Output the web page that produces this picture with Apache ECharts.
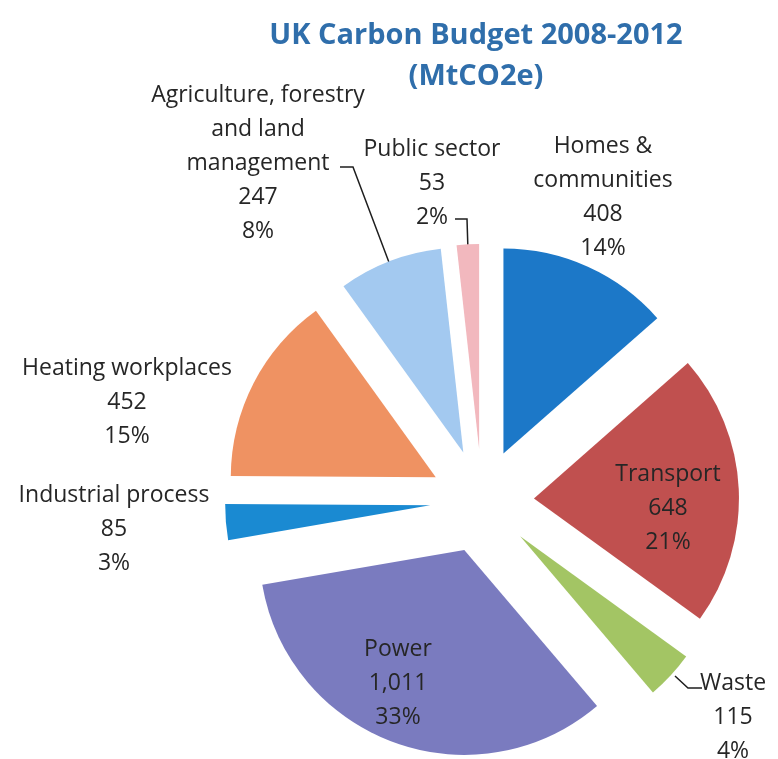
<!DOCTYPE html>
<html>
<head>
<meta charset="utf-8">
<script src="https://cdn.jsdelivr.net/npm/echarts@6/dist/echarts.min.js"></script>
<style>
  html, body { margin: 0; padding: 0; background: #ffffff; }
  #chart { width: 778px; height: 759px; }
</style>
</head>
<body>
<div id="chart"></div>
<script>
// Sectors of the UK carbon budget, clockwise from 12 o'clock
var categories = [
  'Homes &\ncommunities',
  'Transport',
  'Waste',
  'Power',
  'Industrial process',
  'Heating workplaces',
  'Agriculture, forestry\nand land\nmanagement',
  'Public sector'
];
// Emissions, MtCO2e
var values = [408, 648, 115, 1011, 85, 452, 247, 53];
var colors = ['#1c78c8', '#c0504f', '#a3c564', '#7a7bbf', '#1a8ad2', '#ef9262', '#a3c9f0', '#f2b8be'];

// Label anchor (centre) for each sector's text block
var labelPos = [
  [603, 197], [668, 508], [733, 717], [398, 683],
  [114, 529], [127, 402], [258, 163], [432, 183]
];
// Leader lines for the labels that sit away from their slice
var leaderLines = {
  2: [[675, 676], [688, 688], [702, 688]],
  6: [[340, 167], [353, 167], [390, 265]],
  7: [[455, 219], [467, 219], [468, 251]]
};

var total = values.reduce(function (a, b) { return a + b; }, 0);

function withCommas(n) {
  return String(n).replace(/\B(?=(\d{3})+(?!\d))/g, ',');
}

var chart = echarts.init(document.getElementById('chart'), null, { renderer: 'canvas' });

var pieCenter = [482, 501];
var pieRadius = [0, 205];

// Exploded slices
var sliceData = categories.map(function (name, i) {
  return { name: name, value: values[i], selected: true, itemStyle: { color: colors[i] } };
});
// Same sectors, invisible, carrying the text and leader lines
var labelData = categories.map(function (name, i) {
  return { name: name, value: values[i], labelLine: { show: !!leaderLines[i] } };
});

chart.setOption({
  animation: false,
  backgroundColor: '#ffffff',
  title: {
    text: 'UK Carbon Budget 2008-2012\n(MtCO2e)',
    left: 471,
    top: 10,
    textAlign: 'center',
    textStyle: {
      fontFamily: 'Open Sans',
      fontWeight: 'bold',
      fontSize: 29,
      lineHeight: 41,
      color: '#2f6eab'
    }
  },
  series: [{
    type: 'pie',
    center: pieCenter,
    radius: pieRadius,
    startAngle: 90,
    clockwise: true,
    selectedMode: 'multiple',
    selectedOffset: 52,
    emphasis: { disabled: true },
    itemStyle: { borderWidth: 0 },
    label: { show: false },
    labelLine: { show: false },
    data: sliceData
  }, {
    type: 'pie',
    center: pieCenter,
    radius: pieRadius,
    startAngle: 90,
    clockwise: true,
    silent: true,
    selectedMode: false,
    avoidLabelOverlap: false,
    emphasis: { disabled: true },
    itemStyle: { color: 'rgba(0,0,0,0)', borderWidth: 0 },
    label: {
      show: true,
      position: 'outside',
      fontFamily: 'Open Sans',
      fontSize: 23,
      lineHeight: 34,
      color: '#262626',
      formatter: function (p) {
        var pct = Math.round(p.value / total * 100);
        return p.name + '\n' + withCommas(p.value) + '\n' + pct + '%';
      }
    },
    labelLine: {
      show: true,
      lineStyle: { color: '#1e1e1e', width: 1.5 }
    },
    labelLayout: function (p) {
      var pos = labelPos[p.dataIndex];
      var out = { x: pos[0], y: pos[1], align: 'center', verticalAlign: 'middle' };
      if (leaderLines[p.dataIndex]) out.labelLinePoints = leaderLines[p.dataIndex];
      return out;
    },
    data: labelData
  }]
});
</script>
</body>
</html>
